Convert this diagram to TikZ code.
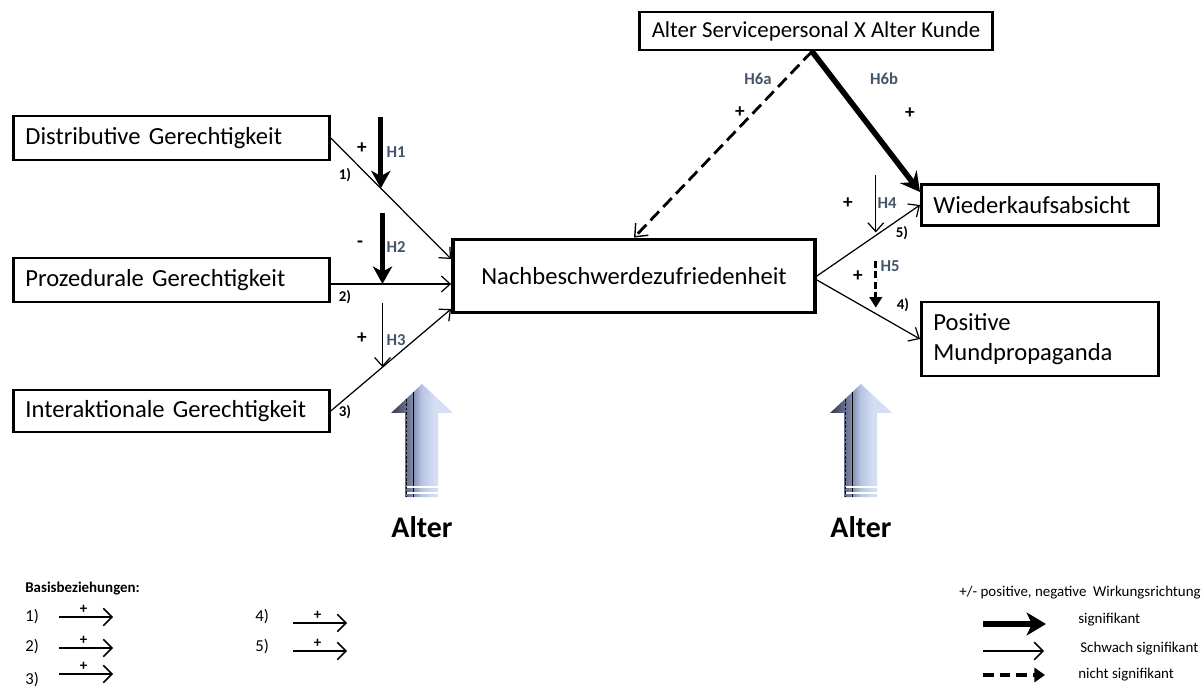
\documentclass[tikz,border=0pt]{standalone}
\usepackage{fontspec}
\setmainfont{Carlito}
\usetikzlibrary{positioning,arrows.meta}
\definecolor{hblue}{HTML}{44546A}
\definecolor{altdark}{RGB}{52,54,70}
\definecolor{altmid}{RGB}{120,130,164}
\definecolor{altpale}{RGB}{185,198,228}
\definecolor{altlight}{RGB}{212,222,243}
\pgfdeclarehorizontalshading{altshade}{100bp}{color(0bp)=(altdark); color(25bp)=(altdark);
  color(41bp)=(altmid); color(50bp)=(altpale); color(60bp)=(altlight); color(100bp)=(altlight)}

\begin{document}
\begin{tikzpicture}[x=0.02cm,y=-0.02cm,
    box/.style={rectangle,draw,line width=1.6pt,anchor=west,align=left,
      inner xsep=0.24cm,font=\fontsize{14}{17}\selectfont},
    centre/.style={rectangle,draw,line width=2.2pt,minimum width=7.24cm,
      minimum height=1.46cm,font=\fontsize{14}{17}\selectfont},
    weak/.style={-{Straight Barb[length=5pt,width=9pt]},line width=0.7pt},
    sig/.style={-{Stealth[length=10pt,width=11pt,inset=3pt]},line width=2.8pt},
    hyp/.style={font=\bfseries\fontsize{9.5}{11}\selectfont,text=hblue},
    sign/.style={font=\bfseries\fontsize{11}{13}\selectfont},
    num/.style={font=\bfseries\fontsize{8.5}{10}\selectfont},
    legend/.style={font=\fontsize{8.5}{10}\selectfont,anchor=west,inner sep=0pt},
    alter/.style={font=\bfseries\fontsize{17}{20}\selectfont}
    ]
    \useasboundingbox (0,0) rectangle (1202,688);

    % boxes
    \node[box,text width=5.84cm,minimum height=0.88cm] (D) at (12,138) {Distributive Gerechtigkeit};
    \node[box,text width=5.84cm,minimum height=0.88cm] (P) at (12,280) {Prozedurale Gerechtigkeit};
    \node[box,text width=5.84cm,minimum height=0.84cm] (I) at (12,411) {Interaktionale Gerechtigkeit};
    \node[centre] (N) at (634,276) {Nachbeschwerdezufriedenheit};
    \node[rectangle,draw,line width=1.6pt,minimum width=7.06cm,minimum height=0.76cm,
      font=\fontsize{13}{16}\selectfont] (A) at (816,31) {Alter Servicepersonal X Alter Kunde};
    \node[box,text width=4.26cm,minimum height=0.82cm] (W) at (920,205) {Wiederkaufsabsicht};
    \node[box,text width=4.26cm,minimum height=1.48cm] (M) at (920,339) {Positive\\Mundpropaganda};

    % base relations
    \draw[weak] (D.east) -- coordinate[pos=0.416] (m1) ([yshift=0.34cm]N.west);
    \draw[weak] ([yshift=-0.08cm]P.east) coordinate (p2) -- coordinate[pos=0.43] (m2) (p2 -| N.west);
    \draw[weak] (I.east) -- coordinate[pos=0.43] (m3) ([yshift=-0.66cm]N.west);
    \draw[weak] (N.east) -- coordinate[pos=0.571] (m5) (W.west);
    \draw[weak] ([yshift=-0.08cm]N.east) -- coordinate[pos=0.571] (m4) (M.west);

    % moderators
    \draw[sig] ([yshift=1.42cm]m1) -- (m1);
    \draw[sig] ([yshift=1.42cm]m2) -- (m2);
    \draw[weak] ([yshift=1.28cm]m3) -- (m3);
    \draw[weak] ([yshift=1.2cm]m5) -- ([yshift=0.06cm]m5);
    \draw[-{Triangle[length=6pt,width=7pt]},line width=1.6pt,dash pattern=on 4pt off 2pt]
      ([yshift=1.06cm]m4) -- ([yshift=0.12cm]m4);
    \draw[-{Straight Barb[length=6pt,width=10pt,line width=0.8pt]},line width=1.6pt,
      dash pattern=on 7pt off 3.5pt] ([xshift=-0.08cm]A.south) -- (N.north);
    \draw[-{Stealth[length=11pt,width=12pt,inset=4pt]},line width=3.2pt]
      ([xshift=-0.08cm]A.south) -- ([yshift=0.26cm]W.west);

    % labels
    \node[sign] (s1) at (362,148) {+};
    \node[hyp] (h1) at (396,152) {H1};
    \node[num] (n1) at (345,175) {1)};
    \node[sign] (s2) at (360,244) {-};
    \node[hyp] (h2) at (396,247) {H2};
    \node[num] (n2) at (345,297) {2)};
    \node[sign] (s3) at (362,338) {+};
    \node[hyp] (h3) at (396,340) {H3};
    \node[num] (n3) at (345,412) {3)};
    \node[hyp] (h6a) at (758,79) {H6a};
    \node[sign] (s6a) at (740,112) {+};
    \node[hyp] (h6b) at (884,79) {H6b};
    \node[sign] (s6b) at (910,113) {+};
    \node[sign] (s4) at (848,203) {+};
    \node[hyp] (h4) at (887,203) {H4};
    \node[num] (n5) at (902,233) {5)};
    \node[sign] (s5) at (858,276) {+};
    \node[hyp] (h5) at (890,266) {H5};
    \node[num] (n4) at (903,305) {4)};

    % age arrows
    \foreach \ax/\nm in {422/al1,861/al2}{
      \shade[shading=altshade]
        (\ax,384) -- ({\ax+31},413) -- ({\ax+16},413) -- ({\ax+16},497)
        -- ({\ax-17},497) -- ({\ax-17},413) -- ({\ax-31},413) -- cycle;
      \draw[line width=0.5pt] ({\ax-9},392) -- ({\ax-9},497);
      \draw[line width=0.4pt,dash pattern=on 1.5pt off 1pt] ({\ax-16},399) -- ({\ax-16},497);
      \draw[white,line width=0.6pt] ({\ax-15},487) -- ({\ax+16},487);
      \draw[white,line width=0.6pt] ({\ax-15},493) -- ({\ax+16},493);
      \node[alter] (\nm) at (\ax,527) {Alter};
    }

    % legend left
    \node[legend,font=\bfseries\fontsize{8.5}{10}\selectfont] (bb) at (25,589) {Basisbeziehungen:};
    \tikzset{lgw/.style={-{Straight Barb[length=5pt,width=10pt]},line width=0.9pt}}
    \node[legend,font=\fontsize{9.5}{11}\selectfont] (b1) at (25,617) {1)};
    \node[legend,font=\fontsize{9.5}{11}\selectfont] (b2) at (25,647) {2)};
    \node[legend,font=\fontsize{9.5}{11}\selectfont] (b3) at (25,680) {3)};
    \node[legend,font=\fontsize{9.5}{11}\selectfont] (b4) at (255,617) {4)};
    \node[legend,font=\fontsize{9.5}{11}\selectfont] (b5) at (255,647) {5)};
    \draw[lgw] ([xshift=0.4cm]b1.east) -- ++(1.08cm,0) node[pos=0.45,above=-2pt,num] (p1) {+};
    \draw[lgw] ([xshift=0.4cm,yshift=-0.02cm]b2.east) -- ++(1.08cm,0) node[pos=0.45,above=-2pt,num] (p2) {+};
    \draw[lgw] ([xshift=0.4cm,yshift=0.12cm]b3.east) -- ++(1.08cm,0) node[pos=0.45,above=-2pt,num] (p3) {+};
    \draw[lgw] ([xshift=0.48cm,yshift=-0.12cm]b4.east) -- ++(1.08cm,0) node[pos=0.45,above=-2pt,num] (p4) {+};
    \draw[lgw] ([xshift=0.48cm,yshift=-0.08cm]b5.east) -- ++(1.08cm,0) node[pos=0.45,above=-2pt,num] (p5) {+};

    % legend right
    \node[legend,anchor=east] (wr) at (1201,593) {+/- positive, negative\ \ Wirkungsrichtung};
    \node[legend] (t1) at (1078,620) {signifikant};
    \node[legend] (t2) at (1080,649) {Schwach signifikant};
    \node[legend] (t3) at (1078,675) {nicht signifikant};
    \draw[-{Stealth[length=11pt,width=13pt,inset=3pt]},line width=3.4pt]
      ([xshift=-1.9cm,yshift=-0.08cm]t1.west) -- ([xshift=-0.64cm,yshift=-0.08cm]t1.west);
    \draw[-{Straight Barb[length=5pt,width=10pt]},line width=0.9pt]
      ([xshift=-1.94cm,yshift=-0.04cm]t2.west) -- ([xshift=-0.72cm,yshift=-0.04cm]t2.west);
    \draw[-{Triangle[length=6pt,width=8pt]},line width=2pt,dash pattern=on 6pt off 3.5pt]
      ([xshift=-1.9cm]t3.west) -- ([xshift=-0.66cm]t3.west);
\end{tikzpicture}
\end{document}
